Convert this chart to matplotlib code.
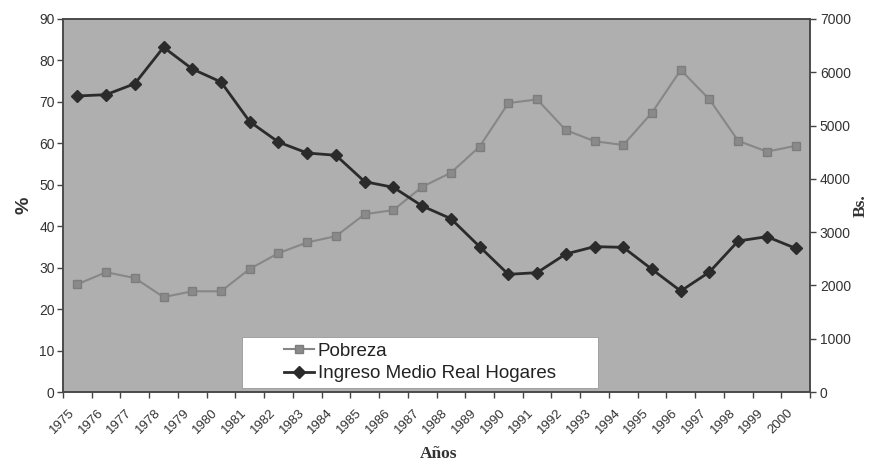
import matplotlib
matplotlib.use("Agg")
import matplotlib.pyplot as plt
import matplotlib.transforms as mtransforms
from matplotlib.lines import Line2D
from matplotlib.patches import Rectangle
import numpy as np

plt.rcParams['font.family'] = ['Liberation Sans', 'DejaVu Sans']

# datos
years = [str(y) for y in range(1975, 2001)]
pobreza = [26.0, 28.9, 27.5, 22.9, 24.3, 24.3, 29.7, 33.5, 36.1, 37.6,
           42.9, 43.9, 49.5, 52.9, 59.2, 69.7, 70.6, 63.2, 60.5, 59.6,
           67.4, 77.7, 70.6, 60.6, 58.0, 59.4]
ingreso = [5555, 5580, 5786, 6469, 6062, 5818, 5073, 4690, 4485, 4442,
           3947, 3841, 3491, 3253, 2728, 2208, 2240, 2590, 2728, 2715,
           2302, 1895, 2252, 2834, 2915, 2696]

gris_fondo = '#afafaf'
gris_linea = '#878787'
negro = '#2b2b2b'
txt = '#333333'

fig = plt.figure(figsize=(8.71, 4.62), dpi=100, facecolor='white')
ax = fig.add_axes([0.0723, 0.1515, 0.8577, 0.8074])
ax.set_facecolor(gris_fondo)
ax2 = ax.twinx()

x = np.arange(len(years))
ax.plot(x, pobreza, color=gris_linea, lw=1.5, marker='s', ms=5.5,
        mfc='#8a8a8a', mec='#7d7d7d', zorder=3)
ax2.plot(x, ingreso, color=negro, lw=2, marker='D', ms=6.5,
         mfc=negro, mec=negro, zorder=3)

ax.set_xlim(-0.5, len(years) - 0.5)
ax.set_ylim(0, 90)
ax2.set_ylim(0, 7000)
ax.set_yticks(np.arange(0, 91, 10))
ax2.set_yticks(np.arange(0, 7001, 1000))

# etiquetas en el centro de cada categoria, marcas en los bordes
ax.set_xticks(x)
ax.set_xticklabels(years, rotation=45, ha='right', rotation_mode='anchor')
ax.set_xticks(np.arange(-0.5, len(years)), minor=True)
ax.tick_params(axis='x', which='major', length=0, pad=6, labelsize=9.5, labelcolor=txt)
ax.tick_params(axis='x', which='minor', length=4, width=1, color='#444444')
ax.tick_params(axis='y', length=4, width=1, color='#444444', labelsize=10,
               labelcolor=txt, pad=2)
ax2.tick_params(axis='y', length=4, width=1, color='#444444', labelsize=10,
                labelcolor=txt, pad=3)

shift = mtransforms.ScaledTranslation(-9 / 100, -6 / 100, fig.dpi_scale_trans)
for lab in ax.get_xticklabels():
    lab.set_transform(lab.get_transform() + shift)

for a in (ax, ax2):
    for s in a.spines.values():
        s.set_color('#4a4a4a')
        s.set_linewidth(1.2)

ax.set_ylabel('%', fontsize=14, fontweight='bold', color=txt, labelpad=5)
ax2.set_ylabel('Bs.', fontsize=12.5, fontweight='bold', color=txt,
               family='Liberation Serif', labelpad=1)
ax.set_xlabel('Años', fontsize=12.5, fontweight='bold', color=txt,
              family='Liberation Serif', va='center')
ax.xaxis.set_label_coords(0.503, -0.166)

# leyenda con caja blanca
ax2.add_patch(Rectangle((0.2396, 0.011), 0.4766, 0.1367, transform=ax2.transAxes,
                        facecolor='white', edgecolor='#999999', lw=0.6, zorder=4))
handles = [
    Line2D([], [], color=gris_linea, lw=1.5, marker='s', ms=5.5,
           mfc='#8a8a8a', mec='#7d7d7d'),
    Line2D([], [], color=negro, lw=2, marker='D', ms=6.5, mfc=negro, mec=negro),
]
leg = ax2.legend(handles, ['Pobreza', 'Ingreso Medio Real Hogares'],
                 loc='center', bbox_to_anchor=(0.478, 0.079), frameon=False,
                 fontsize=13.5, handlelength=1.6, handletextpad=0.2,
                 labelspacing=0.3, borderpad=0)
leg.set_zorder(5)
for t in leg.get_texts():
    t.set_color('#222222')

fig.savefig('out.png', dpi=100, facecolor='white')
